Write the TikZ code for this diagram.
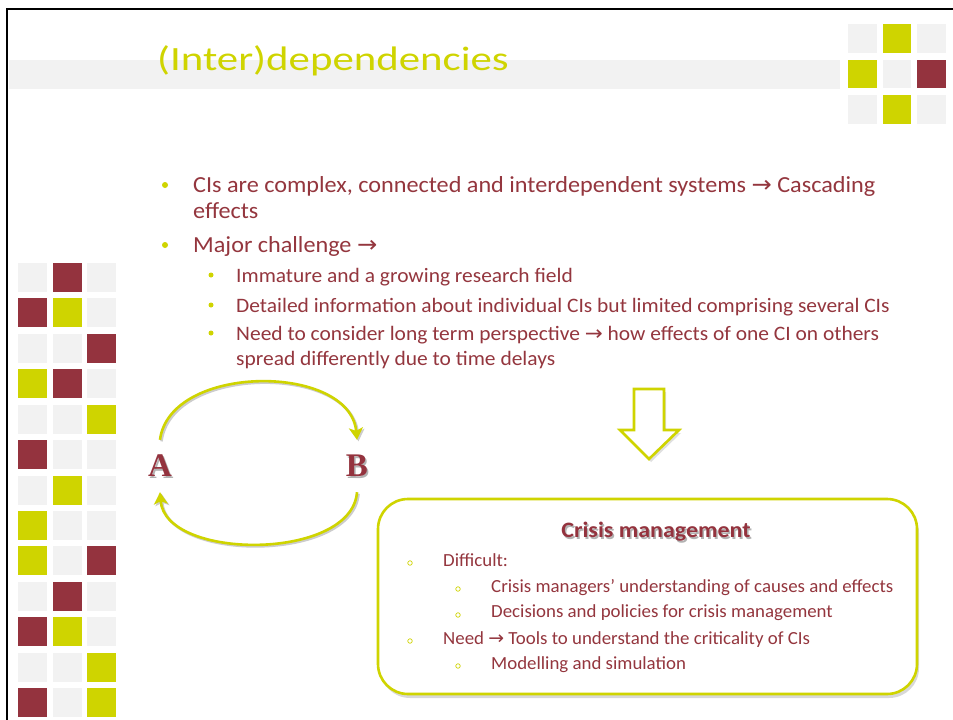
\documentclass[tikz,border=0pt]{standalone}
\usepackage{graphicx}
\usepackage{fontspec}
\setmainfont{Carlito}
\newfontfamily\arrowfont{DejaVu Sans}
\newfontfamily\timesfont{Liberation Serif}
\usetikzlibrary{arrows.meta,shadows,calc}
\definecolor{ylw}{RGB}{207,212,0}
\definecolor{mrn}{RGB}{148,51,62}
\definecolor{lgray}{RGB}{242,242,242}
\definecolor{txt}{RGB}{148,54,62}
\newcommand{\arr}{{\arrowfont →}}
\newcommand{\mt}[1]{\scalebox{1.052}[1]{#1}}
\newcommand{\st}[1]{\scalebox{1.047}[1]{#1}}
\newcommand{\bx}[1]{\scalebox{1.02}[1]{#1}}
\begin{document}
\begin{tikzpicture}[x=1pt,y=-1pt,
  maintext/.style={anchor=base west,inner sep=0,text=txt,font=\fontsize{23}{26}\selectfont},
  subtext/.style={anchor=base west,inner sep=0,text=txt,font=\fontsize{20.5}{24}\selectfont},
  boxtext/.style={anchor=base west,inner sep=0,text=txt,font=\fontsize{18.5}{22}\selectfont},
  mainbullet/.style={circle,fill=ylw,inner sep=0,minimum size=6},
  subbullet/.style={circle,fill=ylw,inner sep=0,minimum size=5},
  ringbullet/.style={circle,draw=ylw,line width=0.7,inner sep=0,minimum size=4.5},
  letter/.style={font=\timesfont\bfseries\fontsize{33}{33}\selectfont,text=mrn,inner sep=0,minimum height=52,minimum width=26},
  lettershadow/.style={font=\timesfont\bfseries\fontsize{33}{33}\selectfont,text=black!30,inner sep=0,minimum height=52,minimum width=26},
  arc/.style={draw=ylw,line width=2.6,-{Stealth[length=12pt,width=14pt,inset=3pt]}},
  arcshadow/.style={draw=black!20,line width=2.6,-{Stealth[length=12pt,width=14pt,inset=3pt]}},
]
\useasboundingbox (0,0) rectangle (953,720);
\fill[white] (0,0) rectangle (953,720);
% frame
\draw[line width=2.6] (7,721) -- (7,9) -- (954,9);
% title band
\fill[lgray] (8.5,60) rectangle (840,89);
\node[anchor=base west,inner sep=0,text=ylw,font=\fontsize{34}{36}\selectfont] (title) at (157,70) {\scalebox{1.26}[1]{(Inter)dependencies}};
% top-right squares
\foreach \c [count=\i from 0] in {lgray,ylw,lgray,ylw,lgray,mrn,lgray,ylw,lgray}{
  \pgfmathtruncatemacro{\r}{int(\i/3)}
  \pgfmathtruncatemacro{\k}{mod(\i,3)}
  \fill[\c] ({848+\k*34.5},{24+\r*35.5}) rectangle ++(28.5,28.5);
}
% left squares
\foreach \c [count=\i from 0] in {
  lgray,mrn,lgray, mrn,ylw,lgray, lgray,lgray,mrn, ylw,mrn,lgray,
  lgray,lgray,ylw, mrn,lgray,lgray, lgray,ylw,lgray, ylw,lgray,lgray,
  ylw,lgray,mrn, lgray,mrn,lgray, mrn,ylw,lgray, lgray,lgray,ylw,
  mrn,lgray,ylw}{
  \pgfmathtruncatemacro{\r}{int(\i/3)}
  \pgfmathtruncatemacro{\k}{mod(\i,3)}
  \fill[\c] ({18+\k*34.5},{263+\r*35.42}) rectangle ++(29,29);
}
% main bullets
\node[mainbullet] (b1) at (165,185) {};
\node[mainbullet] (b2) at (165,245) {};
\node[maintext] (t1) at (193,192.5) {\mt{CIs are complex, connected and interdependent systems \arr{} Cascading}};
\node[maintext] (t1b) at (193,218.5) {\mt{effects}};
\node[maintext] (t2) at (193,252) {\mt{Major challenge \arr}};
\node[subbullet] (s1) at (211,275) {};
\node[subbullet] (s2) at (211,305) {};
\node[subbullet] (s3) at (211,333) {};
\node[subtext] (u1) at (236,282) {\st{Immature and a growing research field}};
\node[subtext] (u2) at (236,312) {\st{Detailed information about individual CIs but limited comprising several CIs}};
\node[subtext] (u3) at (236,340) {\st{Need to consider long term perspective \arr{} how effects of one CI on others}};
\node[subtext] (u3b) at (236,365) {\st{spread differently due to time delays}};
% A B cycle
\node[lettershadow] at (161.5,467.5) {A};
\node[lettershadow] at (358.5,467.5) {B};
\node[letter] (A) at (160,466) {A};
\node[letter] (B) at (357,466) {B};
\draw[arcshadow] ([shift={(1.5,1.5)}]A.north) .. controls (171.5,364.5) and (351.5,364.5) .. ([shift={(1.5,1.5)}]B.north);
\draw[arcshadow] ([shift={(1.5,1.5)}]B.south) .. controls (353.5,562.5) and (166.5,562.5) .. ([shift={(1.5,1.5)}]A.south);
\draw[arc] (A.north) .. controls (170,363) and (350,363) .. (B.north);
\draw[arc] (B.south) .. controls (352,561) and (165,561) .. (A.south);
% down arrow
\draw[draw=ylw,line width=2.6,fill=white,line join=miter,drop shadow={shadow xshift=2pt,shadow yshift=-3pt,opacity=0.25}]
  (634,389) -- (664,389) -- (664,430) -- (679,430) -- (649,459) -- (620,430) -- (634,430) -- cycle;
% crisis box
\node[draw=ylw,line width=2.6,fill=white,rounded corners=30pt,minimum width=539,minimum height=195,
  drop shadow={shadow xshift=2pt,shadow yshift=-4pt,opacity=0.3}] (box) at (647.5,596.5) {};
\node[text=black!30,font=\bfseries\fontsize{22}{24}\selectfont,inner sep=0] at (657.5,533.5) {\scalebox{1.09}[1]{Crisis management}};
\node[text=mrn,font=\bfseries\fontsize{22}{24}\selectfont,inner sep=0] (bt) at (656,532) {\scalebox{1.09}[1]{Crisis management}};
\node[ringbullet] (r1) at (410,563) {};
\node[ringbullet] (r2) at (458,589) {};
\node[ringbullet] (r3) at (458,615) {};
\node[ringbullet] (r4) at (410,641) {};
\node[ringbullet] (r5) at (458,666) {};
\node[boxtext] (c1) at (443,566) {\bx{Difficult:}};
\node[boxtext] (c2) at (491,592) {\bx{Crisis managers’ understanding of causes and effects}};
\node[boxtext] (c3) at (491,617) {\bx{Decisions and policies for crisis management}};
\node[boxtext] (c4) at (443,644) {\bx{Need \arr{} Tools to understand the criticality of CIs}};
\node[boxtext] (c5) at (491,669) {\bx{Modelling and simulation}};
\end{tikzpicture}
\end{document}
